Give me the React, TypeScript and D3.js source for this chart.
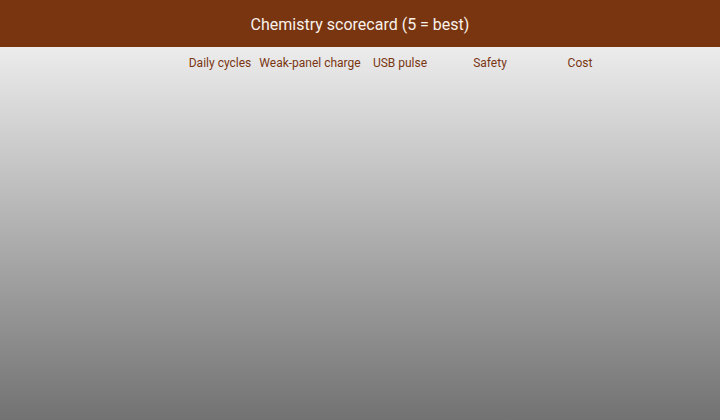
import React from "react";
import * as d3 from "d3";

const title = "Chemistry scorecard (5 = best)";
const criteria = ["Daily cycles", "Weak-panel charge", "USB pulse", "Safety", "Cost"];
const chemistries: string[] = [];
const scores: number[][] = [];

const W = 720;
const H = 420;
const headerH = 47;

export default function App() {
  const x = d3.scaleBand<string>().domain(criteria).range([175, 625]);
  const y = d3.scaleBand<string>().domain(chemistries).range([80, 400]).padding(0.1);
  const color = d3.scaleSequential(d3.interpolateOranges).domain([1, 5]);

  return (
    <div>
      <style>{`body{margin:0}`}</style>
      <svg width={W} height={H} style={{ display: "block", fontFamily: "Roboto, sans-serif" }}>
        <defs>
          <linearGradient id="bg" x1="0" y1="0" x2="0" y2="1">
            <stop offset="0%" stopColor="#ececec" />
            <stop offset="100%" stopColor="#727272" />
          </linearGradient>
        </defs>
        <rect x={0} y={headerH} width={W} height={H - headerH} fill="url(#bg)" />
        <rect x={0} y={0} width={W} height={headerH} fill="#783510" />
        <text x={W / 2} y={30} textAnchor="middle" fontSize={16} fill="#f8f1ea">
          {title}
        </text>
        {criteria.map((c) => (
          <text
            key={c}
            x={(x(c) ?? 0) + x.bandwidth() / 2}
            y={67}
            textAnchor="middle"
            fontSize={12}
            fill="#7a3612"
          >
            {c}
          </text>
        ))}
        {chemistries.map((r, i) =>
          criteria.map((c, j) => (
            <rect
              key={r + c}
              x={x(c)}
              y={y(r)}
              width={x.bandwidth()}
              height={y.bandwidth()}
              fill={color(scores[i]?.[j] ?? 0)}
            />
          ))
        )}
      </svg>
    </div>
  );
}
